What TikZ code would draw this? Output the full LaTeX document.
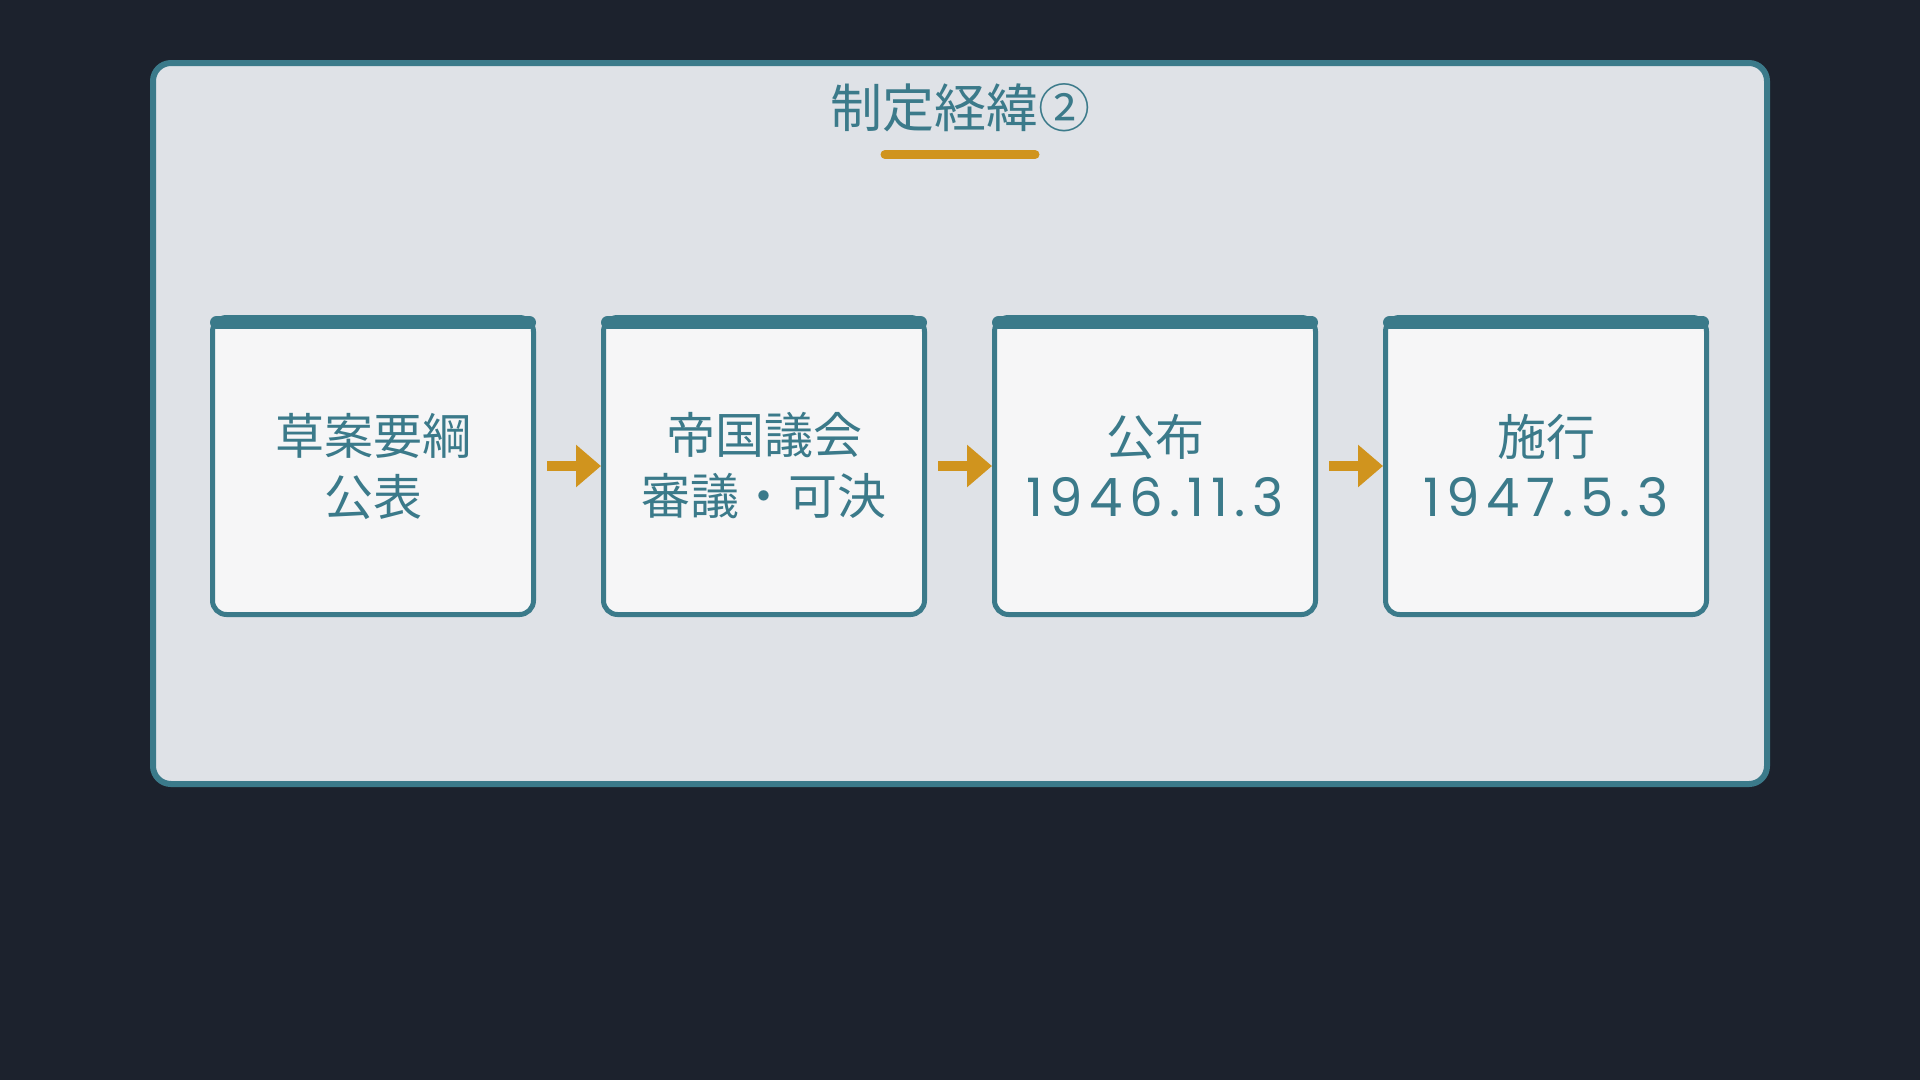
\documentclass[tikz,border=0pt]{standalone}
\usepackage{fontspec}
\setmainfont{Noto Sans CJK JP}
\newfontfamily\numfont[LetterSpace=12.5]{Poppins}
\usetikzlibrary{arrows.meta}

\definecolor{bgdark}{HTML}{1C222D}
\definecolor{panelfill}{HTML}{DFE2E7}
\definecolor{boxfill}{HTML}{F6F6F7}
\definecolor{tealline}{HTML}{3B7A8A}
\definecolor{accent}{HTML}{D0941E}

\newcommand{\datetxt}[1]{{\numfont\fontsize{53}{61}\selectfont #1}}

\begin{document}
\begin{tikzpicture}[x=1pt,y=-1pt,
  panel/.style={draw=tealline, line width=6pt, fill=panelfill, rounded corners=18pt,
    minimum width=1614pt, minimum height=721pt, inner sep=0pt},
  stage/.style={draw=tealline, line width=5pt, fill=boxfill, rounded corners=14pt,
    minimum width=321pt, minimum height=297pt, inner sep=0pt, align=center,
    text=tealline, font=\fontsize{49}{61}\selectfont},
  bar/.style={tealline, line width=13pt, line cap=round},
  flow/.style={-{Triangle[length=25pt,width=41pt]}, accent, line width=10pt, shorten <=11pt}]
  % background and page size
  \fill[bgdark] (0,0) rectangle (1920,1080);
  \node[panel] (panel) at (960,423.5) {};
  % title with underline
  \node[text=tealline, font=\fontsize{52}{60}\selectfont] (title) at (960,108) {制定経緯②};
  \coordinate (ul1) at (885,154.5);
  \coordinate (ul2) at (1035,154.5);
  \draw[accent, line width=9pt, line cap=round] (ul1) -- (ul2);
  % the four steps
  \node[stage] (s1) at (373,466) {草案要綱\\公表};
  \node[stage] (s2) at (764,466) {帝国議会\\審議・可決};
  \node[stage] (s3) at (1155,466) {公布\\\datetxt{1946.11.3}};
  \node[stage] (s4) at (1546,466) {施行\\\datetxt{1947.5.3}};
  \draw[bar] ([xshift=6.5pt,yshift=-7.5pt]s1.north west) -- ([xshift=-6.5pt,yshift=-7.5pt]s1.north east);
  \draw[bar] ([xshift=6.5pt,yshift=-7.5pt]s2.north west) -- ([xshift=-6.5pt,yshift=-7.5pt]s2.north east);
  \draw[bar] ([xshift=6.5pt,yshift=-7.5pt]s3.north west) -- ([xshift=-6.5pt,yshift=-7.5pt]s3.north east);
  \draw[bar] ([xshift=6.5pt,yshift=-7.5pt]s4.north west) -- ([xshift=-6.5pt,yshift=-7.5pt]s4.north east);
  % arrows between steps
  \draw[flow] (s1.east) -- (s2.west);
  \draw[flow] (s2.east) -- (s3.west);
  \draw[flow] (s3.east) -- (s4.west);
\end{tikzpicture}
\end{document}
